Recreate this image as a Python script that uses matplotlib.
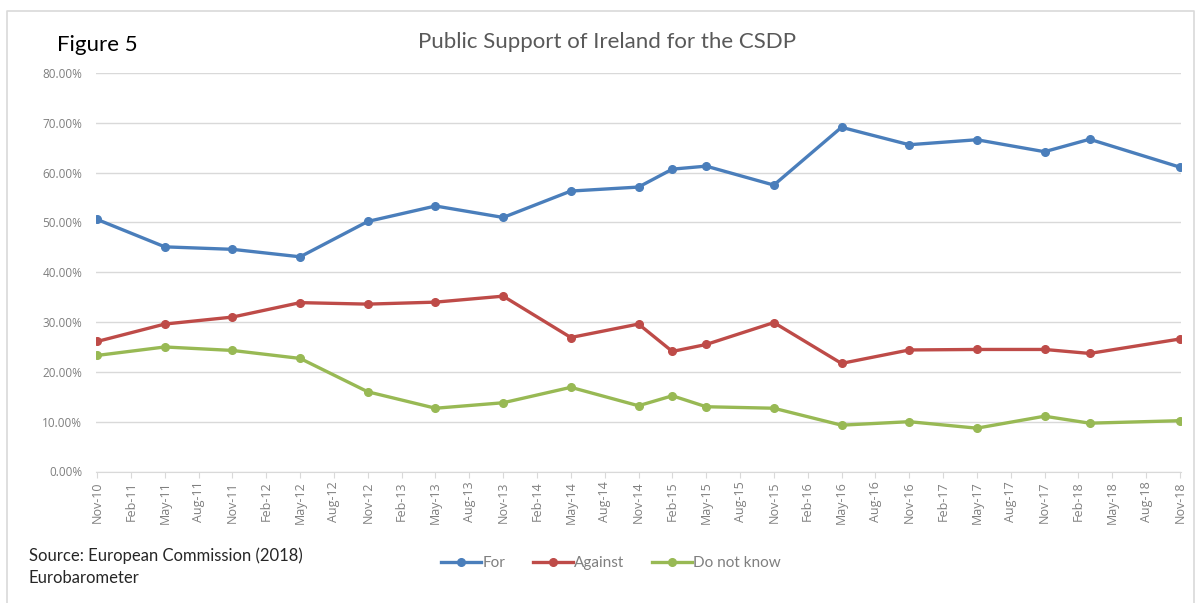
import pandas as pd
import matplotlib
matplotlib.use("Agg")
import matplotlib.pyplot as plt
from matplotlib.lines import Line2D
from matplotlib.ticker import PercentFormatter

#------------SURVEY DATA (Eurobarometer, Ireland)--------------------------
survey_dates = ["Nov-10", "May-11", "Nov-11", "May-12", "Nov-12", "May-13", "Nov-13",
                "May-14", "Nov-14", "Feb-15", "May-15", "Nov-15", "May-16", "Nov-16",
                "May-17", "Nov-17", "Mar-18", "Nov-18"]
for_csdp = [50.6, 45.1, 44.6, 43.1, 50.2, 53.3, 51.0, 56.3, 57.1, 60.7, 61.3, 57.5,
            69.1, 65.6, 66.6, 64.2, 66.7, 61.1]
against_csdp = [26.1, 29.6, 31.0, 33.9, 33.6, 34.0, 35.2, 26.9, 29.6, 24.1, 25.5, 29.9,
                21.7, 24.4, 24.5, 24.5, 23.7, 26.6]
dont_know = [23.3, 25.0, 24.3, 22.7, 16.0, 12.7, 13.8, 16.9, 13.2, 15.2, 13.0, 12.7,
             9.3, 10.0, 8.7, 11.1, 9.7, 10.2]
series_names = ["For", "Against", "Do not know"]
series_colors = ["#4A7EBB", "#BE4B48", "#98B954"]

#------------MONTH INDEX FOR THE DATE AXIS--------------------------
dates = pd.to_datetime(survey_dates, format="%b-%y")
start = dates[0]
months = [(d.year - start.year) * 12 + (d.month - start.month) for d in dates]
tick_dates = pd.date_range(start, dates[-1], freq="3MS")
tick_pos = [(d.year - start.year) * 12 + (d.month - start.month) for d in tick_dates]
tick_labels = [d.strftime("%b-%y") for d in tick_dates]

#------------PLOTTING--------------------------
W, H = 1197, 603
fig = plt.figure(figsize=(W / 100, H / 100), dpi=100)
fig.patch.set_facecolor("white")
ax = fig.add_axes([96 / W, 1 - 471.5 / H, (1181 - 96) / W, (471.5 - 73) / H])

for vals, name, col in zip([for_csdp, against_csdp, dont_know], series_names, series_colors):
    ax.plot(months, vals, color=col, lw=2.4, marker="o", markersize=5.5,
            label=name, solid_joinstyle="round", zorder=3)

ax.set_xlim(months[0] - 0.1, months[-1] + 0.1)
ax.set_ylim(0, 80)
ax.set_yticks(range(0, 81, 10))
ax.yaxis.set_major_formatter(PercentFormatter(decimals=2))
ax.set_xticks(tick_pos)
ax.set_xticklabels(tick_labels, rotation=90)

ax.grid(axis="y", color="#D9D9D9", lw=1)
ax.set_axisbelow(True)
for side in ["top", "right", "left"]:
    ax.spines[side].set_visible(False)
ax.spines["bottom"].set_color("#D9D9D9")
ax.tick_params(axis="y", length=0, pad=10, labelsize=8.5, labelcolor="#7F7F7F")
ax.tick_params(axis="x", length=4, color="#D9D9D9", pad=3, labelsize=9, labelcolor="#7F7F7F")
for lbl in ax.get_xticklabels() + ax.get_yticklabels():
    lbl.set_fontfamily("Open Sans")

#---------TITLE, CAPTIONS, FRAME------------------
fig.text(607 / W, 1 - 42 / H, "Public Support of Ireland for the CSDP",
         ha="center", va="center", fontsize=16, color="#595959", family="Lato")
fig.text(57 / W, 1 - 45 / H, "Figure 5", ha="left", va="center",
         fontsize=16, color="black", family="Lato")
fig.text(29 / W, 1 - 556 / H, "Source: European Commission (2018)", ha="left",
         va="center", fontsize=12, color="#262626", family="Lato")
fig.text(29 / W, 1 - 578 / H, "Eurobarometer", ha="left", va="center",
         fontsize=12, color="#262626", family="Lato")

frame_x = [7 / W, 7 / W, 1194 / W, 1194 / W]
frame_y = [0, 1 - 11 / H, 1 - 11 / H, 0]
fig.add_artist(Line2D(frame_x, frame_y, color="#D9D9D9", lw=1.2, transform=fig.transFigure))

leg = fig.legend(loc="center", bbox_to_anchor=(611 / W, 1 - 563 / H), ncol=3,
                 frameon=False, handlelength=2.6, handletextpad=0.1,
                 columnspacing=1.8, prop={"family": "Lato", "size": 11})
for txt in leg.get_texts():
    txt.set_color("#7F7F7F")

fig.savefig("out.png", dpi=100, facecolor="white")
